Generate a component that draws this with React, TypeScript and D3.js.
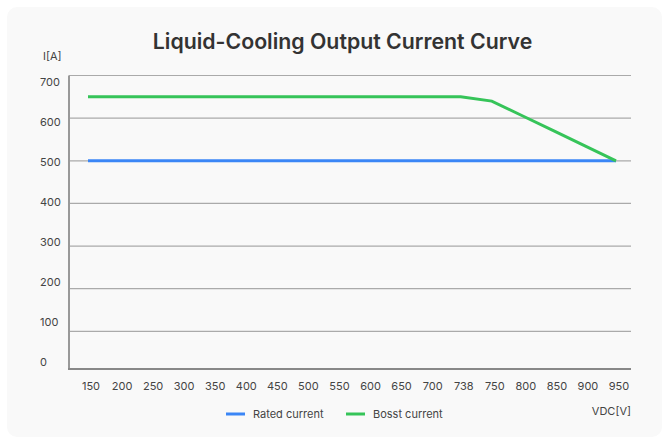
import React, { useRef, useEffect } from "react";
import * as d3 from "d3";

// chart data
const voltages = ["150", "200", "250", "300", "350", "400", "450", "500", "550", "600", "650", "700", "738", "750", "800", "850", "900", "950"];
const ratedCurrent = [500, 500, 500, 500, 500, 500, 500, 500, 500, 500, 500, 500, 500, 500, 500, 500, 500, 500];
const boostCurrent = [650, 650, 650, 650, 650, 650, 650, 650, 650, 650, 650, 650, 650, 640, 605, 570, 535, 500];
const yTicks = [0, 100, 200, 300, 400, 500, 600, 700];
const seriesNames = ["Rated current", "Bosst current"];
const seriesColors = ["#3b86f6", "#36c459"];

const WIDTH = 669;
const HEIGHT = 439;
const FONT = "Inter, 'Noto Sans', sans-serif";

export default function App() {
  const svgRef = useRef<SVGSVGElement>(null);

  useEffect(() => {
    document.body.style.margin = "0";
    if (!svgRef.current) return;

    const svg = d3.select(svgRef.current);
    svg.selectAll("*").remove();

    // card background
    svg
      .append("rect")
      .attr("x", 7)
      .attr("y", 7)
      .attr("width", 655)
      .attr("height", 430)
      .attr("rx", 10)
      .attr("fill", "#f9f9f9");

    // title
    svg
      .append("text")
      .attr("x", 342.5)
      .attr("y", 49)
      .attr("text-anchor", "middle")
      .attr("font-family", FONT)
      .attr("font-size", 21.3)
      .attr("font-weight", 600)
      .attr("fill", "#333")
      .text("Liquid-Cooling Output Current Curve");

    const x = d3.scalePoint<string>().domain(voltages).range([88, 616]);
    const y = d3.scaleLinear().domain([0, 700]).range([374, 75.5]);
    // tick labels sit on a slightly tighter spacing than the gridlines
    const yLabel = d3.scaleLinear().domain([0, 700]).range([362, 82]);

    const left = 69;
    const right = 631;
    const bottom = 369;

    // gridlines
    svg
      .append("g")
      .selectAll("line")
      .data(yTicks.filter((t) => t > 0))
      .join("line")
      .attr("x1", left)
      .attr("x2", right)
      .attr("y1", (d) => y(d))
      .attr("y2", (d) => y(d))
      .attr("stroke", "#aaa")
      .attr("stroke-width", 1.2);

    // axes
    svg
      .append("line")
      .attr("x1", left)
      .attr("x2", left)
      .attr("y1", y(700))
      .attr("y2", bottom)
      .attr("stroke", "#999")
      .attr("stroke-width", 2);
    svg
      .append("line")
      .attr("x1", left - 1)
      .attr("x2", right)
      .attr("y1", bottom)
      .attr("y2", bottom)
      .attr("stroke", "#888")
      .attr("stroke-width", 2);

    // y tick labels
    svg
      .append("g")
      .selectAll("text")
      .data(yTicks)
      .join("text")
      .attr("x", 40)
      .attr("y", (d) => yLabel(d))
      .attr("dy", "0.35em")
      .attr("font-family", FONT)
      .attr("font-size", 11)
      .attr("fill", "#444")
      .text((d) => d);

    svg
      .append("text")
      .attr("x", 43)
      .attr("y", 60)
      .attr("font-family", FONT)
      .attr("font-size", 11)
      .attr("fill", "#444")
      .text("I[A]");

    // x tick labels
    svg
      .append("g")
      .selectAll("text")
      .data(voltages)
      .join("text")
      .attr("x", (d) => (x(d) ?? 0) + 3)
      .attr("y", 386)
      .attr("dy", "0.35em")
      .attr("text-anchor", "middle")
      .attr("font-family", FONT)
      .attr("font-size", 11)
      .attr("fill", "#444")
      .text((d) => d);

    svg
      .append("text")
      .attr("x", 631)
      .attr("y", 411)
      .attr("dy", "0.35em")
      .attr("text-anchor", "end")
      .attr("font-family", FONT)
      .attr("font-size", 11)
      .attr("fill", "#444")
      .text("VDC[V]");

    // lines
    const line = d3
      .line<number>()
      .x((_, i) => x(voltages[i]) ?? 0)
      .y((d) => y(d));

    [ratedCurrent, boostCurrent].forEach((series, i) => {
      svg
        .append("path")
        .attr("d", line(series) || "")
        .attr("fill", "none")
        .attr("stroke", seriesColors[i])
        .attr("stroke-width", 3);
    });

    // legend
    const legendX = [226, 346];
    const legend = svg
      .append("g")
      .selectAll("g")
      .data(seriesNames)
      .join("g")
      .attr("transform", (_, i) => `translate(${legendX[i]},414)`);
    legend
      .append("line")
      .attr("x1", 0)
      .attr("x2", 19)
      .attr("stroke", (_, i) => seriesColors[i])
      .attr("stroke-width", 3);
    legend
      .append("text")
      .attr("x", 27)
      .attr("dy", "0.35em")
      .attr("font-family", FONT)
      .attr("font-size", 11)
      .attr("fill", "#444")
      .text((d) => d);
  }, []);

  return <svg ref={svgRef} width={WIDTH} height={HEIGHT} style={{ display: "block" }}></svg>;
}
